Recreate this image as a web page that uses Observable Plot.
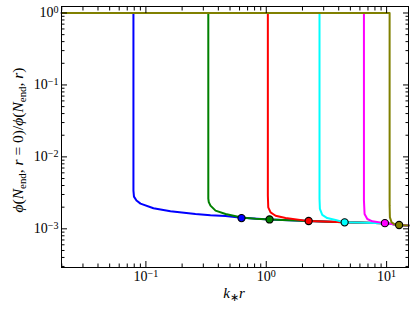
<!DOCTYPE html>
<html><head><meta charset="utf-8">
<script src="https://cdn.jsdelivr.net/npm/d3@7"></script>
<script src="https://cdn.jsdelivr.net/npm/@observablehq/plot@0.6"></script>
<style>html,body{margin:0;padding:0;background:#fff;} svg text{font-family:"Liberation Serif",serif;}</style>
</head><body><div id="chart"></div>
<script>
// ---- data ----
const seriesNames  = ["blue", "green", "red", "cyan", "magenta", "olive"];
const seriesColors = ["#0000ff", "#008000", "#ff0000", "#00bfbf", "#bf00bf", "#808000"];

const blueKr    = [0.02, 0.0788, 0.0788, 0.0796, 0.0835, 0.0902, 0.1156, 0.160, 0.258, 0.344, 0.459, 0.623];
const blueRatio = [1, 1, 3.40e-3, 2.80e-3, 2.47e-3, 2.24e-3, 1.93e-3, 1.76e-3, 1.61e-3, 1.55e-3, 1.51e-3, 1.42e-3];

const greenKr    = [0.02, 0.330, 0.330, 0.333, 0.344, 0.379, 0.459, 0.623, 0.815];
const greenRatio = [1, 1, 2.63e-3, 2.35e-3, 2.10e-3, 1.79e-3, 1.61e-3, 1.44e-3, 1.38e-3];

const redKr    = [0.02, 1.031, 1.031, 1.039, 1.086, 1.195, 1.446, 2.12, 2.25];
const redRatio = [1, 1, 2.90e-3, 1.99e-3, 1.69e-3, 1.52e-3, 1.41e-3, 1.30e-3, 1.285e-3];

const cyanKr    = [0.02, 2.77, 2.77, 2.79, 2.92, 3.21, 3.77, 4.48];
const cyanRatio = [1, 1, 2.63e-3, 1.89e-3, 1.56e-3, 1.41e-3, 1.33e-3, 1.23e-3];

const magentaKr    = [0.02, 6.48, 6.48, 6.56, 6.91, 7.61, 9.68];
const magentaRatio = [1, 1, 2.47e-3, 1.61e-3, 1.37e-3, 1.27e-3, 1.20e-3];

const oliveKr    = [0.02, 10.59, 10.59, 10.65, 11.0, 11.5, 12.7];
const oliveRatio = [1, 1, 2.10e-3, 1.44e-3, 1.23e-3, 1.17e-3, 1.13e-3];

// common late-time tail shared by all curves
const tailKr    = [1.065, 2.25, 4.48, 9.68, 12.7, 15.2];
const tailRatio = [1.35e-3, 1.285e-3, 1.23e-3, 1.20e-3, 1.13e-3, 1.11e-3];

// marked points
const dotKr    = [0.623, 1.065, 2.25, 4.48, 9.68, 12.7];
const dotRatio = [1.41e-3, 1.35e-3, 1.285e-3, 1.23e-3, 1.20e-3, 1.13e-3];

// ticks
const xMajorTicks = [0.1, 1, 10];
const xMinorTicks = [0.02, 0.03, 0.04, 0.05, 0.06, 0.07, 0.08, 0.09,
                     0.2, 0.3, 0.4, 0.5, 0.6, 0.7, 0.8, 0.9,
                     2, 3, 4, 5, 6, 7, 8, 9];
const yMajorTicks = [1e-3, 1e-2, 1e-1, 1];
const yMinorTicks = [3e-4, 4e-4, 5e-4, 6e-4, 7e-4, 8e-4, 9e-4,
                     2e-3, 3e-3, 4e-3, 5e-3, 6e-3, 7e-3, 8e-3, 9e-3,
                     2e-2, 3e-2, 4e-2, 5e-2, 6e-2, 7e-2, 8e-2, 9e-2,
                     0.2, 0.3, 0.4, 0.5, 0.6, 0.7, 0.8, 0.9];

// ---- build tables ----
const curves = [[blueKr, blueRatio], [greenKr, greenRatio], [redKr, redRatio],
                [cyanKr, cyanRatio], [magentaKr, magentaRatio], [oliveKr, oliveRatio]];
const curveRows = curves.map(([xs, ys], i) => {
  const last = xs[xs.length - 1];
  const r = xs.map((x, j) => ({series: seriesNames[i], kr: x, ratio: ys[j]}));
  tailKr.forEach((x, j) => { if (x > last + 1e-9) r.push({series: seriesNames[i], kr: x, ratio: tailRatio[j]}); });
  return r;
});
const dots = dotKr.map((x, i) => ({series: seriesNames[i], kr: x, ratio: dotRatio[i]}));

const fmtPow = d => "10^" + String(Math.round(Math.log10(d))).replace("-", "\u2212");
const blank = () => "";

const plot = Plot.plot({
  width: 415, height: 310,
  marginLeft: 61, marginRight: 7, marginTop: 6, marginBottom: 43,
  style: {fontFamily: "Liberation Serif", fontSize: "14px", background: "white", color: "black"},
  x: {type: "log", domain: [0.0199, 15.2], label: null},
  y: {type: "log", domain: [2.9e-4, 1.2311], label: null},
  color: {domain: seriesNames, range: seriesColors},
  marks: [
    ...curveRows.map(r => Plot.line(r, {x: "kr", y: "ratio", stroke: "series", strokeWidth: 2})),
    Plot.dot(dots, {x: "kr", y: "ratio", fill: "series", stroke: "black", strokeWidth: 1.1, r: 3.6}),
    Plot.frame({stroke: "black", strokeWidth: 1}),
    Plot.axisX({ticks: xMajorTicks, anchor: "bottom", tickSize: -6, tickPadding: 10, tickFormat: fmtPow}),
    Plot.axisX({ticks: xMinorTicks, anchor: "bottom", tickSize: -3.5, tickFormat: blank}),
    Plot.axisX({ticks: xMajorTicks, anchor: "top", tickSize: -6, tickFormat: blank}),
    Plot.axisX({ticks: xMinorTicks, anchor: "top", tickSize: -3.5, tickFormat: blank}),
    Plot.axisY({ticks: yMajorTicks, anchor: "left", tickSize: -6, tickPadding: 9, tickFormat: fmtPow}),
    Plot.axisY({ticks: yMinorTicks, anchor: "left", tickSize: -3.5, tickFormat: blank}),
    Plot.axisY({ticks: yMajorTicks, anchor: "right", tickSize: -6, tickFormat: blank}),
    Plot.axisY({ticks: yMinorTicks, anchor: "right", tickSize: -3.5, tickFormat: blank})
  ]
});

const svg = d3.select(plot).attr("font-family", "Liberation Serif");
// superscript exponents in tick labels
svg.selectAll('g[aria-label="x-axis tick label"] text, g[aria-label="y-axis tick label"] text').each(function () {
  const m = /^10\^(.+)$/.exec(this.textContent);
  if (!m) return;
  this.textContent = "10";
  d3.select(this).append("tspan").attr("dy", "-0.45em").attr("font-size", "72%").text(m[1]);
});

function richText(sel, parts) {
  let shift = 0;
  parts.forEach(([t, kind]) => {
    const ts = sel.append("tspan").text(t);
    if (kind === "i") ts.attr("font-style", "italic");
    if (kind === "sub") {
      ts.attr("font-size", "70%").attr("dy", (0.3 - shift) + "em"); shift = 0.3;
    } else if (shift !== 0) {
      ts.attr("dy", (-shift * 0.7) + "em"); shift = 0;
    }
  });
}

const yl = svg.append("text")
  .attr("transform", "translate(23,140) rotate(-90)")
  .attr("text-anchor", "middle").attr("font-size", 15.5).attr("fill", "black");
richText(yl, [["\u03d5", "i"], ["(", ""], ["N", "i"], ["end", "sub"], [", ", ""], ["r", "i"], [" = 0)/", ""],
              ["\u03d5", "i"], ["(", ""], ["N", "i"], ["end", "sub"], [", ", ""], ["r", "i"], [")", ""]]);

const xl = svg.append("text")
  .attr("transform", "translate(234,298)")
  .attr("text-anchor", "middle").attr("font-size", 15).attr("fill", "black");
richText(xl, [["k", "i"], ["\u2217", "sub"], ["r", "i"]]);

document.getElementById("chart").appendChild(plot);
</script>
</body></html>
